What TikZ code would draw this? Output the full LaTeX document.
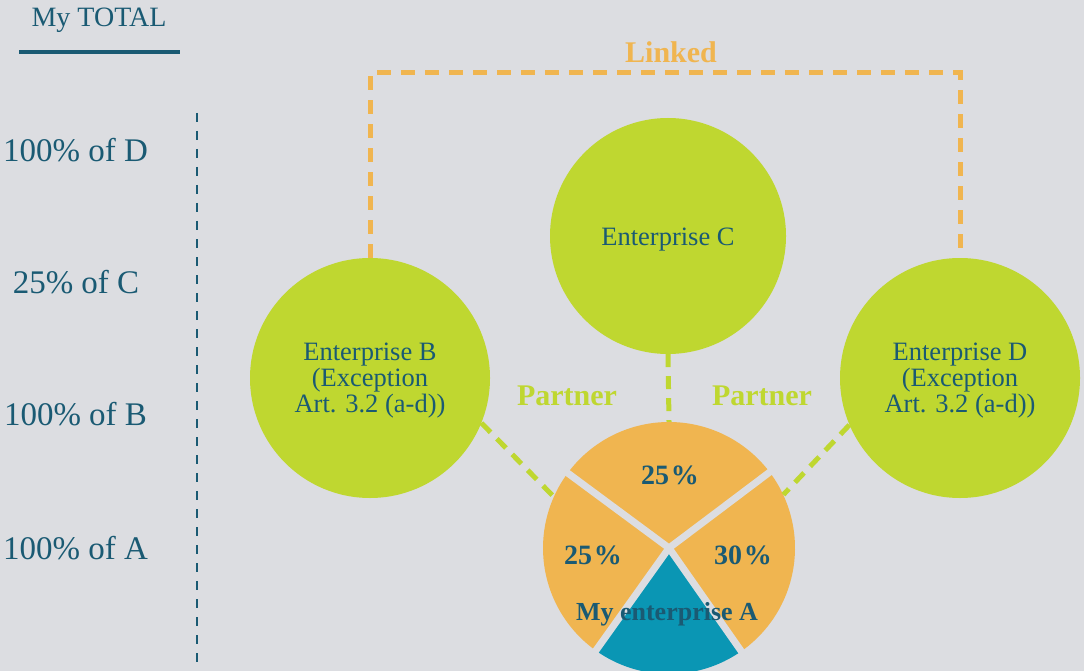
\documentclass[tikz,border=0pt]{standalone}
\usepackage{fontspec}
\setmainfont{Liberation Serif}
\usetikzlibrary{calc}
\definecolor{bgc}{HTML}{DCDDE1}
\definecolor{grn}{HTML}{BFD730}
\definecolor{org}{HTML}{F0B550}
\definecolor{teal}{HTML}{0A96B4}
\definecolor{dtxt}{HTML}{1A5A73}
\tikzset{
  gcirc/.style={circle, fill=grn, inner sep=0pt, minimum size=240pt},
  ctext/.style={align=center, text=dtxt, inner sep=0pt, font=\fontsize{26.5}{26}\selectfont},
  leftlbl/.style={text=dtxt, font=\fontsize{33}{34}\selectfont, inner sep=0pt},
  pielbl/.style={text=dtxt, font=\fontsize{28}{30}\selectfont\bfseries, inner sep=0pt},
  partner/.style={text=grn, font=\fontsize{30}{32}\selectfont\bfseries, inner sep=0pt},
  greendash/.style={draw=grn, line width=5pt, dash pattern=on 13pt off 9pt},
  orangedash/.style={draw=org, line width=5pt, dash pattern=on 14pt off 10pt},
  gapline/.style={draw=bgc, line width=7pt},
}
\begin{document}
\begin{tikzpicture}[x=1pt, y=1pt]
\fill[bgc] (0,0) rectangle (1084,-671);
\useasboundingbox (0,0) rectangle (1084,-671);

% left column
\node[text=dtxt, font=\fontsize{28}{30}\selectfont, inner sep=0pt] (total) at (99,-20) {My TOTAL};
\coordinate (ul1) at (19,-52);
\coordinate (ul2) at (180,-52);
\draw[dtxt, line width=4pt] (ul1) -- (ul2);
\coordinate (vl1) at (197,-113);
\coordinate (vl2) at (197,-675);
\draw[dtxt, line width=2.5pt, dash pattern=on 9pt off 9pt] (vl1) -- (vl2);
\node[leftlbl] (lD) at (75.5,-150) {100\% of D};
\node[leftlbl] (lC) at (76,-282) {25\% of C};
\node[leftlbl] (lB) at (75.5,-414) {100\% of B};
\node[leftlbl] (lA) at (75.5,-548) {100\% of A};

% green circles
\node[gcirc, minimum size=236pt] (C) at (668,-236) {};
\node[gcirc] (B) at (370,-378) {};
\node[gcirc] (D) at (960,-378) {};
\node[ctext] (Ct) at ([yshift=-4pt]C.center) {Enterprise C};
\node[ctext] (Bt) at ([yshift=-3pt]B.center) {Enterprise B\\(Exception\\Art. 3.2 (a-d))};
\node[ctext] (Dt) at ([yshift=-3pt]D.center) {Enterprise D\\(Exception\\Art. 3.2 (a-d))};

% pie node
\node[circle, inner sep=0pt, minimum size=252pt] (A) at (669,-548) {};

% pie slices
\fill[org] (A.center) -- ([shift={(37:126)}]A.center) arc[start angle=37, end angle=143.5, radius=126] -- cycle;
\fill[org] (A.center) -- ([shift={(143.5:126)}]A.center) arc[start angle=143.5, end angle=234.5, radius=126] -- cycle;
\fill[teal] (A.center) -- ([shift={(234.5:126)}]A.center) arc[start angle=234.5, end angle=305, radius=126] -- cycle;
\fill[org] (A.center) -- ([shift={(305:126)}]A.center) arc[start angle=305, end angle=397, radius=126] -- cycle;
\foreach \a in {37,143.5,234.5,305} {
  \draw[gapline] (A.center) -- ([shift={(\a:130)}]A.center);
}

% pie labels
\node[pielbl] (p1) at (670,-475) {25\kern2pt\%};
\node[pielbl] (p2) at (593,-555) {25\kern2pt\%};
\node[pielbl] (p3) at (743,-555) {30\kern2pt\%};
\node[pielbl, font=\fontsize{26}{28}\selectfont\bfseries] (pA) at (667,-614) {My enterprise A};

% partner connectors
\draw[greendash] (C.south) -- (A.north);
\draw[greendash] (B.-22.6) -- (A.156.3);
\draw[greendash] (D.203.6) -- (A.25.4);
\node[partner] (pt1) at (567,-396) {Partner};
\node[partner] (pt2) at (762,-396) {Partner};

% linked connector
\coordinate (lk) at (665,-73);
\draw[orangedash] (B.north) |- (lk) -| (D.north);
\node[text=org, font=\fontsize{30}{32}\selectfont\bfseries, inner sep=0pt] (linked) at (671,-52) {Linked};
\end{tikzpicture}
\end{document}
